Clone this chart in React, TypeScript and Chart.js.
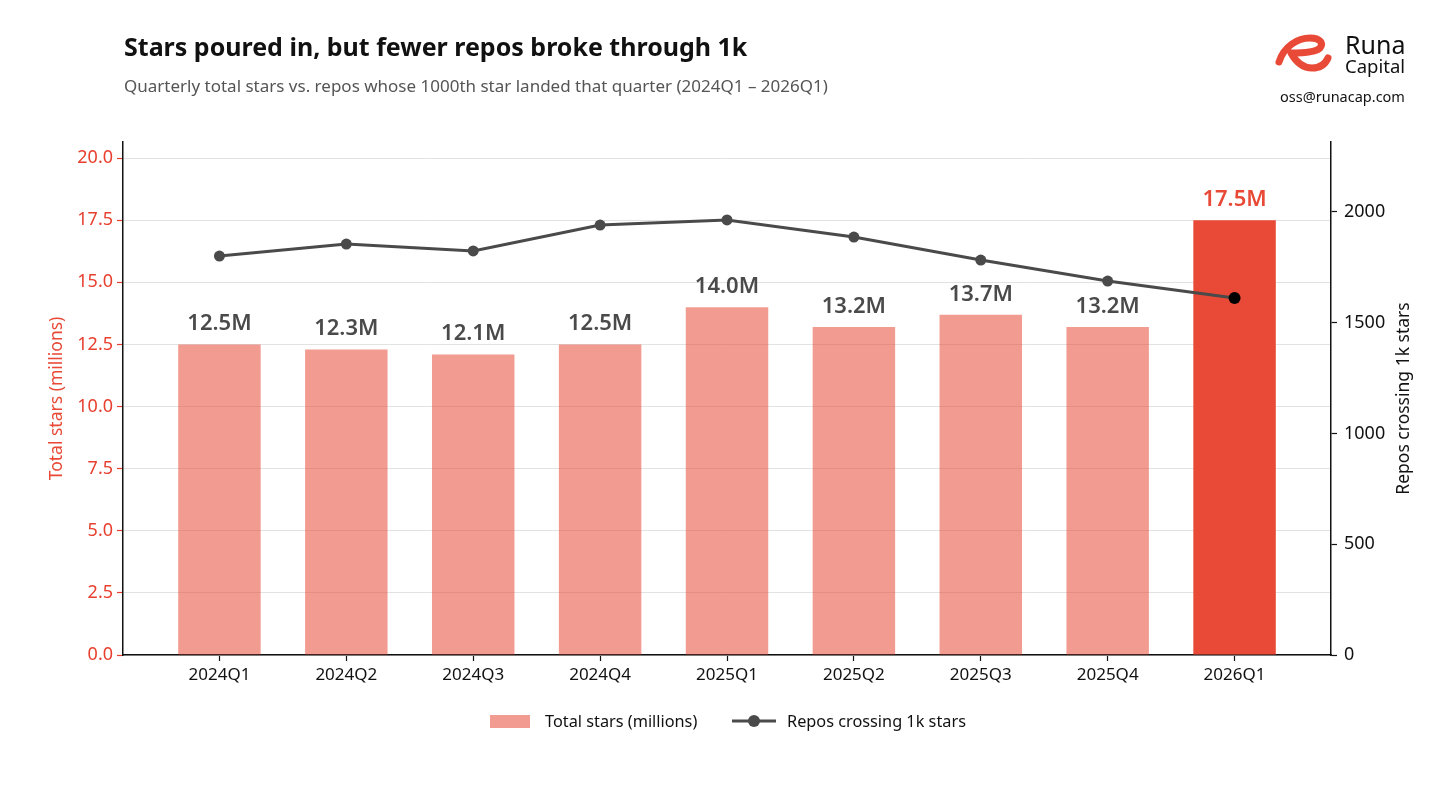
import React, { useEffect, useRef } from "react";
import { Chart, registerables } from "chart.js";

Chart.register(...registerables);

const quarters = ["2024Q1", "2024Q2", "2024Q3", "2024Q4", "2025Q1", "2025Q2", "2025Q3", "2025Q4", "2026Q1"];
const totalStarsM = [12.5, 12.3, 12.1, 12.5, 14.0, 13.2, 13.7, 13.2, 17.5];
const reposCrossing1k = [1801, 1855, 1824, 1941, 1964, 1887, 1783, 1688, 1612];
const leftTicks = [0, 2.5, 5, 7.5, 10, 12.5, 15, 17.5, 20];
const rightTicks = [0, 500, 1000, 1500, 2000];

const FONT = "'Noto Sans', 'DejaVu Sans', sans-serif";
const RED = "#e84a37";
const SALMON = "rgba(232, 74, 55, 0.55)";
const GREY = "#4a4a4a";

const labelsPlugin = {
  id: "barLabels",
  afterDatasetsDraw(chart: any) {
    const ctx = chart.ctx;
    const meta = chart.getDatasetMeta(0);
    ctx.save();
    ctx.font = `600 22px ${FONT}`;
    ctx.textAlign = "center";
    ctx.textBaseline = "alphabetic";
    meta.data.forEach((bar: any, i: number) => {
      const last = i === totalStarsM.length - 1;
      ctx.fillStyle = last ? RED : GREY;
      ctx.fillText(totalStarsM[i].toFixed(1) + "M", bar.x, bar.y - 14);
    });
    ctx.restore();
    const { top, bottom } = chart.chartArea;
    const cy = (top + bottom) / 2;
    ctx.save();
    ctx.font = `17.5px ${FONT}`;
    ctx.textAlign = "center";
    ctx.textBaseline = "middle";
    ctx.fillStyle = RED;
    ctx.translate(57, cy);
    ctx.rotate(-Math.PI / 2);
    ctx.fillText("Total stars (millions)", 0, 0);
    ctx.restore();
    ctx.save();
    ctx.font = `17.5px ${FONT}`;
    ctx.textAlign = "center";
    ctx.textBaseline = "middle";
    ctx.fillStyle = "#111";
    ctx.translate(1404, cy);
    ctx.rotate(-Math.PI / 2);
    ctx.fillText("Repos crossing 1k stars", 0, 0);
    ctx.restore();
  },
};

export default function App() {
  const ref = useRef<HTMLCanvasElement>(null);
  useEffect(() => {
    if (!ref.current) return;
    const n = quarters.length;
    const chart = new Chart(ref.current, {
      type: "bar",
      data: {
        datasets: [
          {
            type: "bar",
            label: "Total stars (millions)",
            data: totalStarsM.map((v, i) => ({ x: i, y: v })),
            backgroundColor: totalStarsM.map((_, i) => (i === n - 1 ? RED : SALMON)),
            borderWidth: 0,
            barPercentage: 0.65,
            categoryPercentage: 1,
            yAxisID: "y",
            xAxisID: "x",
            order: 2,
          } as any,
          {
            type: "line",
            label: "Repos crossing 1k stars",
            data: reposCrossing1k.map((v, i) => ({ x: i, y: v })),
            borderColor: GREY,
            borderWidth: 3,
            pointRadius: reposCrossing1k.map((_, i) => (i === n - 1 ? 6 : 5.5)),
            pointBackgroundColor: reposCrossing1k.map((_, i) => (i === n - 1 ? "#000" : GREY)),
            pointBorderColor: reposCrossing1k.map((_, i) => (i === n - 1 ? "#000" : GREY)),
            pointBorderWidth: 0,
            tension: 0,
            yAxisID: "y1",
            xAxisID: "x",
            order: 1,
          } as any,
        ],
      },
      options: {
        animation: false,
        responsive: false,
        layout: { padding: { left: 0, right: 0, top: 142, bottom: 0 } },
        plugins: { legend: { display: false }, tooltip: { enabled: false } },
        scales: {
          x: {
            type: "linear",
            offset: false,
            min: -0.76,
            max: n - 1 + 0.76,
            afterBuildTicks: (s: any) => {
              s.ticks = quarters.map((_, i) => ({ value: i }));
            },
            afterFit: (s: any) => {
              s.height = 134;
            },
            ticks: {
              autoSkip: false,
              maxRotation: 0,
              padding: 4,
              color: "#111",
              font: { family: FONT, size: 17 },
              callback: (v: any) => quarters[v] ?? "",
            },
            grid: { offset: false, drawOnChartArea: false, drawTicks: true, tickLength: 6, tickColor: "#111", tickWidth: 1.2 },
            border: { display: true, color: "#111", width: 1.5 },
          },
          y: {
            type: "linear",
            position: "left",
            min: 0,
            max: 20.65,
            afterBuildTicks: (s: any) => {
              s.ticks = leftTicks.map((v) => ({ value: v }));
            },
            afterFit: (s: any) => {
              s.width = 123;
            },
            ticks: {
              padding: 4,
              color: "#e8402f",
              font: { family: FONT, size: 18 },
              callback: (v: any) => Number(v).toFixed(1),
            },
            grid: { color: "#e2e2e2", lineWidth: 1, tickLength: 6, tickColor: "#e8402f", tickWidth: 1.2 },
            border: { display: true, color: "#111", width: 1.5 },
          },
          y1: {
            type: "linear",
            position: "right",
            min: 0,
            max: 2316,
            afterBuildTicks: (s: any) => {
              s.ticks = rightTicks.map((v) => ({ value: v }));
            },
            afterFit: (s: any) => {
              s.width = 125;
            },
            ticks: {
              padding: 7,
              color: "#111",
              font: { family: FONT, size: 18 },
              callback: (v: any) => String(v),
            },
            grid: { drawOnChartArea: false, tickLength: 6, tickColor: "#111", tickWidth: 1.2 },
            border: { display: true, color: "#111", width: 1.5 },
          },
        },
      } as any,
      plugins: [labelsPlugin],
    });
    return () => chart.destroy();
  }, []);

  return (
    <div style={{ position: "absolute", left: 0, top: 0, width: 1456, height: 789, background: "#fff", fontFamily: FONT, overflow: "hidden" }}>
      <canvas ref={ref} width={1456} height={789} style={{ position: "absolute", left: 0, top: 0, width: 1456, height: 789 }} />
      <div style={{ position: "absolute", left: 124, top: 29, fontSize: 25, fontWeight: 700, color: "#111", whiteSpace: "nowrap", lineHeight: "34px" }}>
        Stars poured in, but fewer repos broke through 1k
      </div>
      <div style={{ position: "absolute", left: 124, top: 74, fontSize: 17, color: "#555", whiteSpace: "nowrap", lineHeight: "24px" }}>
        Quarterly total stars vs. repos whose 1000th star landed that quarter (2024Q1 – 2026Q1)
      </div>
      <svg style={{ position: "absolute", left: 1268, top: 28 }} width={66} height={54} viewBox="0 0 66 54">
        <path
          d="M11 34 C 16 18, 30 10, 42 10 C 52 10, 56 15, 52 20 C 48 24, 34 25, 23 25 C 28 34, 34 40, 44 40 C 52 40, 57 37, 60 30"
          fill="none"
          stroke={RED}
          strokeWidth={7}
          strokeLinecap="round"
          strokeLinejoin="round"
        />
      </svg>
      <div style={{ position: "absolute", left: 1345, top: 29, fontSize: 25, color: "#111", lineHeight: "30px", whiteSpace: "nowrap" }}>Runa</div>
      <div style={{ position: "absolute", left: 1345, top: 55, fontSize: 18.5, color: "#111", lineHeight: "22px", whiteSpace: "nowrap" }}>Capital</div>
      <div style={{ position: "absolute", left: 1280, top: 86, fontSize: 14.5, color: "#111", lineHeight: "20px", whiteSpace: "nowrap" }}>oss@runacap.com</div>
      <div style={{ position: "absolute", left: 490, top: 715, width: 40, height: 13, background: SALMON }} />
      <div style={{ position: "absolute", left: 545, top: 709, fontSize: 16.3, color: "#111", lineHeight: "24px", whiteSpace: "nowrap" }}>Total stars (millions)</div>
      <svg style={{ position: "absolute", left: 730, top: 711 }} width={48} height={20}>
        <line x1={2} y1={10} x2={46} y2={10} stroke={GREY} strokeWidth={3} />
        <circle cx={24} cy={10} r={6} fill={GREY} />
      </svg>
      <div style={{ position: "absolute", left: 787, top: 709, fontSize: 16.3, color: "#111", lineHeight: "24px", whiteSpace: "nowrap" }}>Repos crossing 1k stars</div>
    </div>
  );
}
